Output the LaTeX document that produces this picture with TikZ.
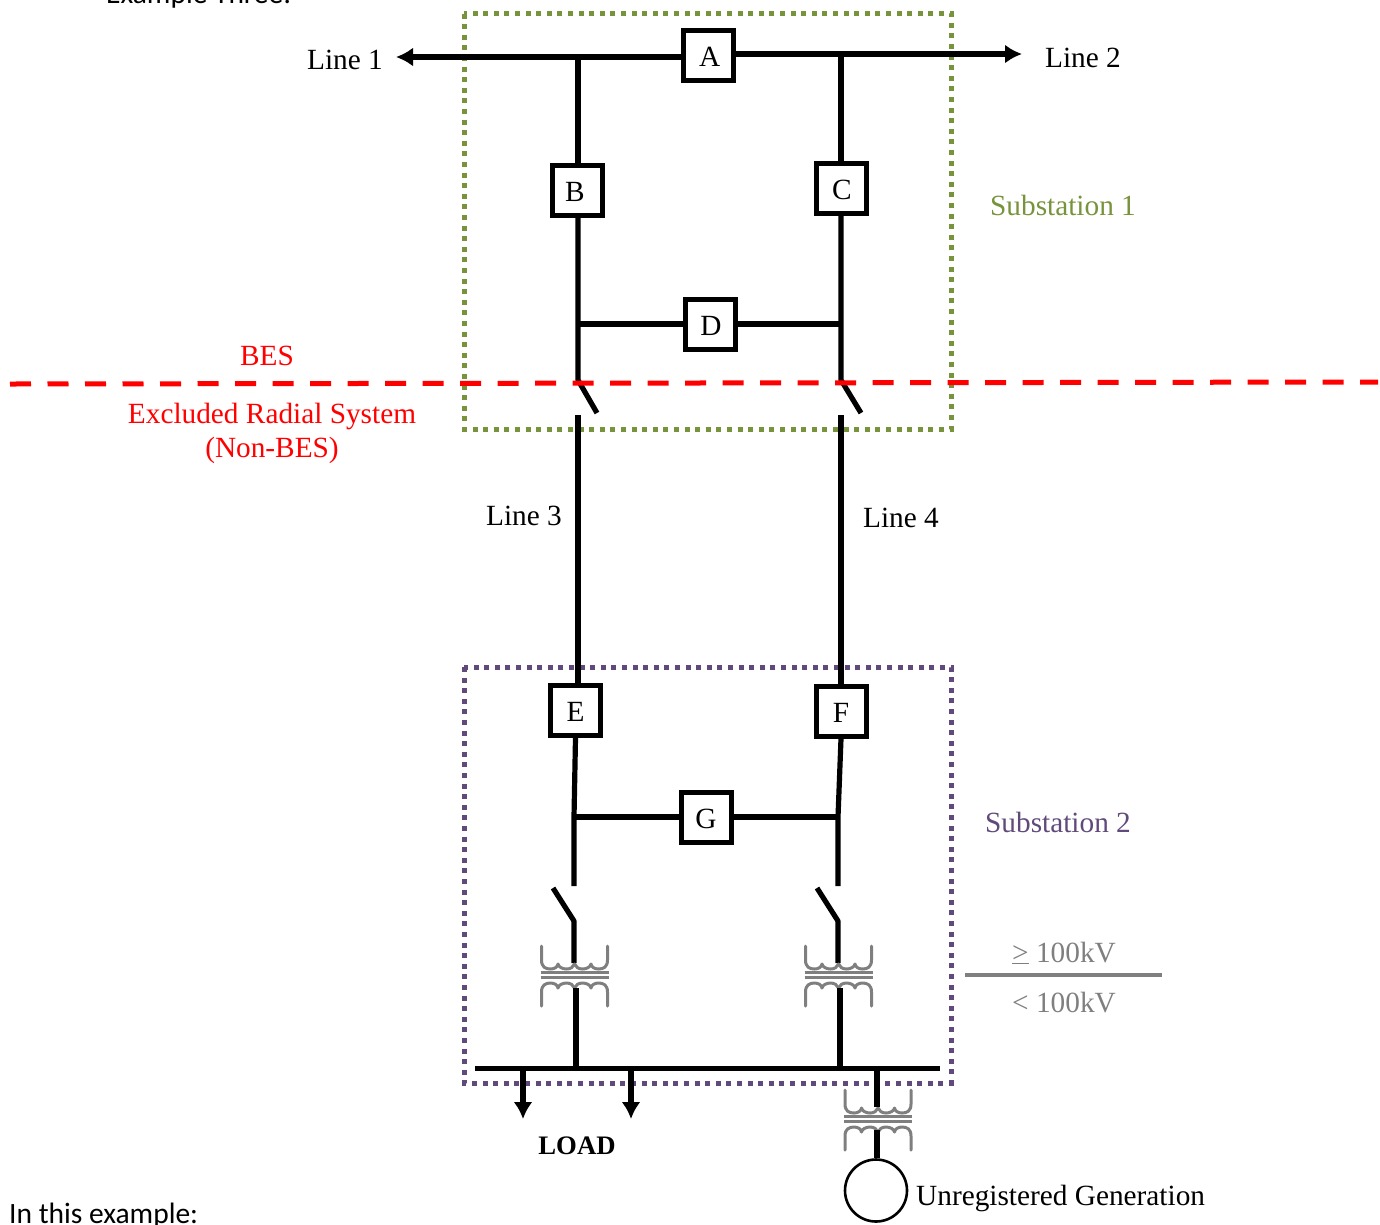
\documentclass[tikz,border=0pt]{standalone}
\usepackage{fontspec}
\setmainfont{Liberation Serif}
\newfontfamily\calib{Carlito}
\usetikzlibrary{arrows.meta}
\definecolor{subgreen}{HTML}{77933C}
\definecolor{subpurple}{HTML}{604A7B}
\definecolor{hvgrey}{HTML}{7F7F7F}
\tikzset{
  x=1pt,y=-1pt,
  brk/.style={draw=black,line width=5pt,fill=white,minimum size=50pt,inner sep=0pt,text height=22.6pt,text depth=0pt,font=\fontsize{29.3}{33}\selectfont},
  wire/.style={draw=black,line width=5.2pt},
  feed/.style={wire,-{Latex[length=17pt,width=19pt]}},
  lbl/.style={font=\fontsize{29.3}{33}\selectfont,inner sep=0pt},
  subbox/.style={line width=5pt,dash pattern=on 5pt off 5.6pt},
  coil/.style={draw=hvgrey,line width=3pt,line cap=round,line join=round},
  plate/.style={draw=hvgrey,line width=3.2pt},
}
\newcommand{\xfmr}[2]{%
  \begin{scope}[shift={(#1,#2)}]
    \draw[coil] (-33,-28) -- (-33,-14) .. controls (-33,-7) and (-29,-5) .. (-24,-5)
      .. controls (-20,-5) and (-17,-7) .. (-16.5,-10) .. controls (-16,-7) and (-12,-5) .. (-8,-5)
      .. controls (-4,-5) and (-1,-7) .. (0,-10) .. controls (1,-7) and (4,-5) .. (8,-5)
      .. controls (12,-5) and (16,-7) .. (16.5,-10) .. controls (17,-7) and (20,-5) .. (24,-5)
      .. controls (29,-5) and (33,-7) .. (33,-14) -- (33,-28);
    \draw[coil] (-33,32) -- (-33,18) .. controls (-33,11) and (-29,9) .. (-24,9)
      .. controls (-20,9) and (-17,11) .. (-16.5,14) .. controls (-16,11) and (-12,9) .. (-8,9)
      .. controls (-4,9) and (-1,11) .. (0,14) .. controls (1,11) and (4,9) .. (8,9)
      .. controls (12,9) and (16,11) .. (16.5,14) .. controls (17,11) and (20,9) .. (24,9)
      .. controls (29,9) and (33,11) .. (33,18) -- (33,32);
    \draw[plate] (-34,-1.5) -- (34,-1.5);
    \draw[plate] (-34,3.5) -- (34,3.5);
  \end{scope}}
\begin{document}
\begin{tikzpicture}
\useasboundingbox (0,0) rectangle (1380,1224);
\clip (0,0) rectangle (1380,1224);
% page fragments
\node[anchor=base west,inner sep=0pt,font=\calib\fontsize{29.5}{33}\selectfont] (top) at (106,3) {Example Three:};
\node[anchor=base west,inner sep=0pt,font=\calib\fontsize{29.5}{33}\selectfont] (bot) at (9,1223) {In this example:};
% coordinates
\coordinate (L1) at (396,57);
\coordinate (L2) at (1022,54);
\coordinate (jB) at (578,57);
\coordinate (jC) at (841,54);
\coordinate (jD1) at (578,324);
\coordinate (jD2) at (841,324);
\coordinate (sw1) at (578,380);
\coordinate (sw1b) at (597,413);
\coordinate (sw2) at (841,380);
\coordinate (sw2b) at (861,413);
\coordinate (l3) at (578,415);
\coordinate (l4) at (841,415);
\coordinate (jG1) at (574,817);
\coordinate (jG2) at (838,817);
\coordinate (e1) at (574,886);
\coordinate (e2) at (838,886);
\coordinate (s1a) at (553,888);
\coordinate (s1h) at (574,921);
\coordinate (s1c) at (574,963);
\coordinate (s2a) at (817,888);
\coordinate (s2h) at (838,921);
\coordinate (s2c) at (838,963);
\coordinate (t1) at (576,988);
\coordinate (t2) at (840,988);
\coordinate (b1) at (576,1068.5);
\coordinate (b2) at (840,1068.5);
\coordinate (busL) at (475,1068.5);
\coordinate (busR) at (940,1068.5);
\coordinate (ld1) at (523,1068.5);
\coordinate (ld1e) at (523,1119);
\coordinate (ld2) at (631,1068.5);
\coordinate (ld2e) at (631,1119);
\coordinate (g1) at (877,1068.5);
\coordinate (g2) at (877,1107);
\coordinate (g3) at (877,1130);
% substation boxes
\draw[subbox,draw=subgreen] (464,13.5) rectangle (951,429);
\draw[subbox,draw=subpurple] (464,667) rectangle (951,1083);
% breakers
\node[brk] (A) at (708,55.5) {\kern3.4pt A};
\node[brk] (B) at (577,190) {B\kern4pt};
\node[brk] (C) at (841,188) {\kern2pt C};
\node[brk] (D) at (710,324) {\kern2pt D};
\node[brk] (E) at (575.5,710) {E};
\node[brk] (F) at (841,711) {F};
\node[brk] (G) at (706,817) {G};
\node[draw=black,line width=2.6pt,circle,minimum size=62pt,inner sep=0pt,fill=white] (gen) at (876,1190.5) {};
% wires
\draw[feed] (A.west |- L1) -- (L1);
\draw[feed] (A.east |- L2) -- (L2);
\draw[wire] (jB) -- (B.north -| jB);
\draw[wire] (jC) -- (C.north -| jC);
\draw[wire,line join=round] (B.south -| jB) -- (sw1) -- (sw1b);
\draw[wire,line join=round] (C.south -| jC) -- (sw2) -- (sw2b);
\draw[wire] (jD1) -- (D.west |- jD1);
\draw[wire] (D.east |- jD2) -- (jD2);
\draw[wire] (l3) -- (E.north -| l3);
\draw[wire] (l4) -- (F.north -| l4);
\draw[wire] (E.south) -- (jG1) -- (e1);
\draw[wire] (F.south) -- (jG2) -- (e2);
\draw[wire] (jG1) -- (G.west);
\draw[wire] (G.east) -- (jG2);
\draw[wire,line join=round] (s1a) -- (s1h) -- (s1c);
\draw[wire,line join=round] (s2a) -- (s2h) -- (s2c);
\xfmr{574.5}{974}
\xfmr{838.5}{974}
\xfmr{878}{1118}
\draw[wire] (t1) -- (b1);
\draw[wire] (t2) -- (b2);
\draw[wire] (busL) -- (busR);
\draw[feed] (ld1) -- (ld1e);
\draw[feed] (ld2) -- (ld2e);
\draw[wire] (g1) -- (g2);
\draw[wire] (g3) -- (gen.north -| g3);
% BES boundary
\coordinate (bes1) at (10,384);
\coordinate (bes2) at (1378,382);
\draw[draw=red,line width=5pt,dash pattern=on 21pt off 16.5pt] (bes1) -- (bes2);
% threshold
\coordinate (th1) at (965,975);
\coordinate (th2) at (1162,975);
\draw[draw=hvgrey,line width=3.6pt] (th1) -- (th2);
% labels
\node[lbl,anchor=base] (t1a) at (345,69) {Line 1};
\node[lbl,anchor=base] (t2a) at (1083,67) {Line 2};
\node[lbl,anchor=base] (t3a) at (524,525) {Line 3};
\node[lbl,anchor=base] (t4a) at (901,527) {Line 4};
\node[lbl,anchor=base,text=subgreen] (s1t) at (1063,215) {Substation 1};
\node[lbl,anchor=base,text=subpurple] (s2t) at (1058,832) {Substation 2};
\node[lbl,anchor=base,text=red] (best) at (267,365) {BES};
\node[lbl,anchor=base,text=red] (ex1) at (272,423) {Excluded Radial System};
\node[lbl,anchor=base,text=red] (ex2) at (272,457) {(Non-BES)};
\node[lbl,anchor=base west,text=hvgrey] (hi) at (1012,962) {\underline{>} 100kV};
\node[lbl,anchor=base west,text=hvgrey] (lo) at (1012,1012) {< 100kV};
\node[lbl,anchor=base,font=\bfseries\fontsize{26.7}{30}\selectfont] (load) at (577,1154) {LOAD};
\node[lbl,anchor=base west] (ug) at (916,1205) {Unregistered Generation};
\end{tikzpicture}
\end{document}
